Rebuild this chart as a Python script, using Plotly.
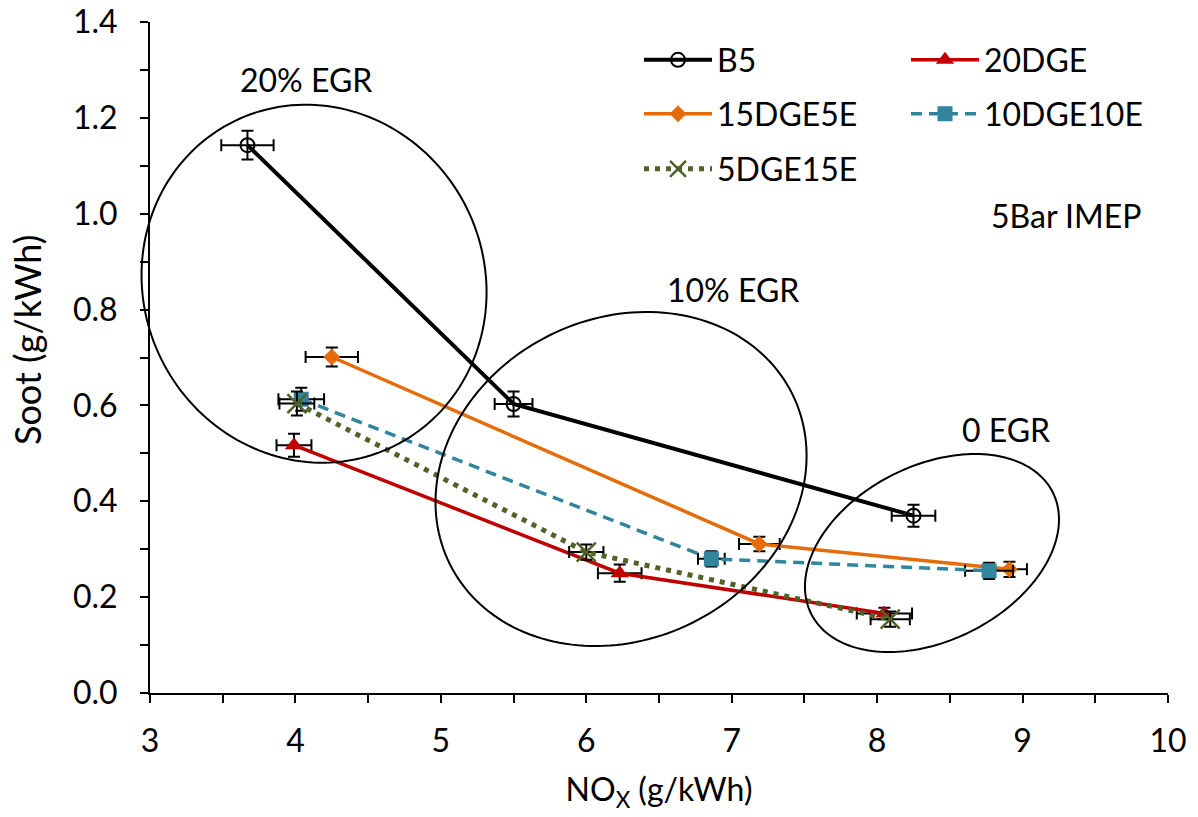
import numpy as np
import plotly.graph_objects as go

# ---------------- data ----------------
series_names = ["B5", "20DGE", "15DGE5E", "10DGE10E", "5DGE15E"]

b5_nox = [3.67, 5.50, 8.25]
b5_soot = [1.143, 0.603, 0.370]
b5_nox_err = [0.18, 0.13, 0.15]
b5_soot_err = [0.030, 0.026, 0.023]

dge20_nox = [3.99, 6.23, 8.05]
dge20_soot = [0.517, 0.250, 0.166]
dge20_nox_err = [0.12, 0.15, 0.19]
dge20_soot_err = [0.024, 0.018, 0.012]

dge15e5_nox = [4.25, 7.19, 8.91]
dge15e5_soot = [0.701, 0.311, 0.258]
dge15e5_nox_err = [0.18, 0.14, 0.12]
dge15e5_soot_err = [0.020, 0.015, 0.016]

dge10e10_nox = [4.04, 6.86, 8.77]
dge10e10_soot = [0.613, 0.280, 0.255]
dge10e10_nox_err = [0.157, 0.092, 0.165]
dge10e10_soot_err = [0.024, 0.016, 0.017]

dge5e15_nox = [4.01, 6.00, 8.09]
dge5e15_soot = [0.604, 0.294, 0.154]
dge5e15_nox_err = [0.12, 0.118, 0.135]
dge5e15_soot_err = [0.025, 0.016, 0.016]

x_ticks = [3, 4, 5, 6, 7, 8, 9, 10]
y_ticks = [0.0, 0.2, 0.4, 0.6, 0.8, 1.0, 1.2, 1.4]

# EGR group labels and the regions around them
group_labels = ["20% EGR", "10% EGR", "0 EGR"]

# ---------------- layout geometry ----------------
W, H = 1198, 817
ML, MR, MT, MB = 150, 30, 22, 124
X_RANGE = [3, 10]
Y_RANGE = [0, 1.4]
PW, PH = W - ML - MR, H - MT - MB
px_per_x = PW / (X_RANGE[1] - X_RANGE[0])
px_per_y = PH / (Y_RANGE[1] - Y_RANGE[0])

FONT = "Lato, 'Open Sans', Arial, sans-serif"
FS = 32

styles = {
    "B5": dict(color="#000000", dash="solid", lw=4,
               marker=dict(symbol="circle-open", size=14, color="#000000",
                           line=dict(width=2, color="#000000"))),
    "20DGE": dict(color="#C00000", dash="solid", lw=3.5,
                  marker=dict(symbol="triangle-up", size=16, color="#C00000")),
    "15DGE5E": dict(color="#E46C0A", dash="solid", lw=3.5,
                    marker=dict(symbol="diamond", size=13, color="#E46C0A")),
    "10DGE10E": dict(color="#31859C", dash="11px,7px", lw=3.5,
                     marker=dict(symbol="square", size=15, color="#31859C")),
    "5DGE15E": dict(color="#4F6228", dash="5px,6px", lw=5,
                    marker=dict(symbol="x-thin", size=19, color="#4F6228",
                                line=dict(width=2.5, color="#4F6228"))),
}

series = [
    ("B5", b5_nox, b5_soot, b5_nox_err, b5_soot_err, "legend"),
    ("20DGE", dge20_nox, dge20_soot, dge20_nox_err, dge20_soot_err, "legend"),
    ("15DGE5E", dge15e5_nox, dge15e5_soot, dge15e5_nox_err, dge15e5_soot_err, "legend2"),
    ("10DGE10E", dge10e10_nox, dge10e10_soot, dge10e10_nox_err, dge10e10_soot_err, "legend2"),
    ("5DGE15E", dge5e15_nox, dge5e15_soot, dge5e15_nox_err, dge5e15_soot_err, "legend3"),
]

fig = go.Figure()
for name, xs, ys, xe, ye, lg in series:
    st = styles[name]
    fig.add_trace(go.Scatter(
        x=xs, y=ys, name=name, mode="lines+markers", legend=lg,
        line=dict(color=st["color"], width=st["lw"], dash=st["dash"]),
        marker=st["marker"],
        error_x=dict(type="data", array=xe, visible=True, color="#000000",
                     thickness=2, width=6),
        error_y=dict(type="data", array=ye, visible=True, color="#000000",
                     thickness=2, width=6),
    ))

# ---------------- ellipses (center in data units, semi-axes in px, angle deg) ----------------
ellipses = [
    dict(cx=4.128, cy=0.854, a=181.0, b=170.4, ang=116.2),
    dict(cx=6.239, cy=0.4465, a=191.2, b=160.5, ang=26.4),
    dict(cx=8.377, cy=0.292, a=135.2, b=87.5, ang=26.7),
]
theta = np.linspace(0, 2 * np.pi, 181)
shapes = []
for e in ellipses:
    al = np.deg2rad(e["ang"])
    dx = e["a"] * np.cos(theta) * np.cos(al) - e["b"] * np.sin(theta) * np.sin(al)
    dy = e["a"] * np.cos(theta) * np.sin(al) + e["b"] * np.sin(theta) * np.cos(al)
    # convert to paper coordinates so the outline is not clipped at the axes
    xs = ((e["cx"] - X_RANGE[0]) * px_per_x + dx) / PW
    ys = ((e["cy"] - Y_RANGE[0]) * px_per_y + dy) / PH
    path = "M " + " L ".join(f"{x:.5f},{y:.5f}" for x, y in zip(xs, ys)) + " Z"
    shapes.append(dict(type="path", path=path, xref="paper", yref="paper",
                       line=dict(color="#000000", width=2), layer="above"))

annotations = [
    dict(text=group_labels[0], x=4.073, y=1.279, xref="x", yref="y", showarrow=False,
         font=dict(size=FS, color="#000000", family=FONT)),
    dict(text=group_labels[1], x=7.009, y=0.841, xref="x", yref="y", showarrow=False,
         font=dict(size=FS, color="#000000", family=FONT)),
    dict(text=group_labels[2], x=8.886, y=0.549, xref="x", yref="y", showarrow=False,
         font=dict(size=FS, color="#000000", family=FONT)),
    dict(text="5Bar IMEP", x=9.299, y=0.997, xref="x", yref="y", showarrow=False,
         font=dict(size=FS, color="#000000", family=FONT)),
    dict(text="Soot (g/kWh)", textangle=-90, x=(27 - ML) / PW,
         y=(H - MB - 340) / PH, xref="paper", yref="paper",
         showarrow=False, xanchor="center", yanchor="middle",
         font=dict(size=36, color="#000000", family=FONT)),
]

leg_common = dict(orientation="h", xanchor="left", yanchor="middle",
                  bgcolor="rgba(0,0,0,0)", borderwidth=0, itemwidth=68,
                  entrywidth=184, entrywidthmode="pixels",
                  font=dict(size=FS, color="#000000", family=FONT))
leg_x = (639 - ML) / PW
def leg_y(py):
    return (H - MB - py) / PH

fig.update_layout(
    width=W, height=H,
    margin=dict(l=ML, r=MR, t=MT, b=MB, autoexpand=False),
    paper_bgcolor="#FFFFFF", plot_bgcolor="#FFFFFF",
    font=dict(family=FONT, size=FS, color="#000000"),
    showlegend=True,
    legend=dict(x=leg_x, y=leg_y(60), **leg_common),
    legend2=dict(x=leg_x, y=leg_y(114), **leg_common),
    legend3=dict(x=leg_x, y=leg_y(169), **leg_common),
    shapes=shapes,
    annotations=annotations,
    xaxis=dict(
        range=X_RANGE, tickvals=x_ticks, ticktext=[str(v) for v in x_ticks],
        showgrid=False, zeroline=False, showline=True, linecolor="#000000", linewidth=2,
        ticks="outside", ticklen=8, tickwidth=2, tickcolor="#000000",
        minor=dict(dtick=0.5, ticks="outside", ticklen=8, tickwidth=2, tickcolor="#000000", showgrid=False),
        tickfont=dict(size=FS, family=FONT, color="#000000"),
        ticklabelstandoff=11,
        title=dict(text="NO<sub>X</sub> (g/kWh)", font=dict(size=FS, family=FONT, color="#000000"),
                   standoff=20),
    ),
    yaxis=dict(
        range=Y_RANGE, tickvals=y_ticks, ticktext=[f"{v:.1f}" for v in y_ticks],
        showgrid=False, zeroline=False, showline=True, linecolor="#000000", linewidth=2,
        ticks="outside", ticklen=8, tickwidth=2, tickcolor="#000000",
        minor=dict(dtick=0.1, ticks="outside", ticklen=8, tickwidth=2, tickcolor="#000000", showgrid=False),
        tickfont=dict(size=FS, family=FONT, color="#000000"),
        ticklabelstandoff=16,
    ),
)

fig.write_html("out.html", config={"displayModeBar": False},
               post_script="document.body.style.margin='0';")
